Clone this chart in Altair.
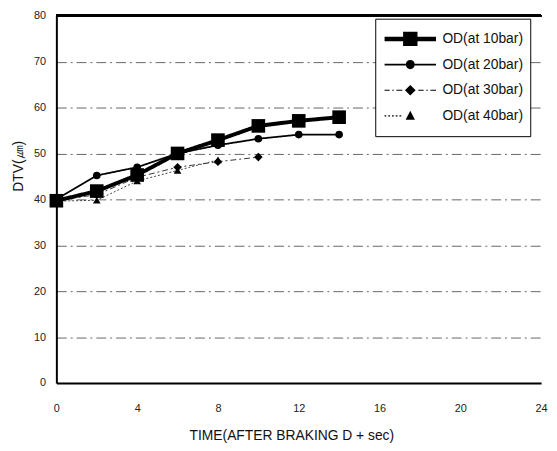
import altair as alt
import pandas as pd

series = ["OD(at 10bar)", "OD(at 20bar)", "OD(at 30bar)", "OD(at 40bar)"]
t10 = [0, 2, 4, 6, 8, 10, 12, 14]
v10 = [39.7, 41.8, 45.3, 50.0, 52.9, 56.0, 57.1, 57.9]
t20 = [0, 2, 4, 6, 8, 10, 12, 14]
v20 = [40.0, 45.2, 47.0, 50.0, 51.8, 53.2, 54.1, 54.1]
t30 = [0, 2, 4, 6, 8, 10]
v30 = [39.8, 41.0, 44.8, 47.0, 48.2, 49.2]
t40 = [0, 2, 4, 6, 8]
v40 = [39.6, 39.8, 44.0, 46.3, 48.6]
x_ticks = [0, 4, 8, 12, 16, 20, 24]
y_ticks = [0, 10, 20, 30, 40, 50, 60, 70, 80]

rows = []
for s, ts, vs in zip(series, [t10, t20, t30, t40], [v10, v20, v30, v40]):
    for t, v in zip(ts, vs):
        rows.append({"series": s, "t": t, "v": v})
df = pd.DataFrame(rows)

FONT = "Liberation Sans"

X = alt.X("t:Q", scale=alt.Scale(domain=[0, 24], nice=False, zero=False),
          axis=alt.Axis(values=x_ticks, title="TIME(AFTER BRAKING D + sec)",
                        grid=False, ticks=False, labelPadding=20,
                        titlePadding=15, titleX=238, labelFlush=False,
                        titleFontSize=14))
Y = alt.Y("v:Q", scale=alt.Scale(domain=[0, 80], nice=False),
          axis=alt.Axis(values=y_ticks, title="DTV(㎛)", grid=True,
                        ticks=False, labelPadding=11, titlePadding=8,
                        titleY=152, labelFlush=False, titleFontSize=14))

# Legend symbols: line segment + marker as filled custom paths.
# symbolSize 729 -> 1 unit = 13.5 px; paths extend to +/-1.93 (about 52 px wide)
legend_paths = [
    "M-1.93,-0.17H-0.54V0.17H-1.93Z M0.54,-0.17H1.93V0.17H0.54Z M-0.54,-0.54H0.54V0.54H-0.54Z",
    "M-1.93,-0.065H-0.34V0.065H-1.93Z M0.34,-0.065H1.93V0.065H0.34Z "
    "M-0.34,0A0.34,0.34 0 1,0 0.34,0A0.34,0.34 0 1,0 -0.34,0Z",
    "M-1.93,-0.045H-1.55V0.045H-1.93Z M-1.35,-0.045H-1.24V0.045H-1.35Z M-1.04,-0.045H-0.6V0.045H-1.04Z "
    "M0.6,-0.045H1.0V0.045H0.6Z M1.2,-0.045H1.31V0.045H1.2Z M1.51,-0.045H1.93V0.045H1.51Z "
    "M-0.4,0L0,-0.4L0.4,0L0,0.4Z",
    "M-1.93,-0.045H-1.8V0.045H-1.93Z M-1.65,-0.045H-1.52V0.045H-1.65Z M-1.37,-0.045H-1.24V0.045H-1.37Z "
    "M-1.09,-0.045H-0.96V0.045H-1.09Z M-0.81,-0.045H-0.68V0.045H-0.81Z "
    "M0,-0.38L0.35,0.28L-0.35,0.28Z",
]

styles = {
    "OD(at 10bar)": dict(sw=4, dash=[1, 0], shape="square", size=190, color="black"),
    "OD(at 20bar)": dict(sw=1.8, dash=[1, 0], shape="circle", size=60, color="black"),
    "OD(at 30bar)": dict(sw=1, dash=[6, 3, 2, 3], shape="diamond", size=75, color="#333333"),
    "OD(at 40bar)": dict(sw=1, dash=[2, 2], shape="triangle-up", size=60, color="#444444"),
}

base = alt.Chart(df)
layers = []
top_rule = alt.Chart(df).mark_rule(color="black", strokeWidth=2).encode(y=alt.datum(80))
for s in reversed(series):
    st = styles[s]
    sub = base.transform_filter(alt.datum.series == s)
    layers.append(sub.mark_line(color=st["color"], strokeWidth=st["sw"],
                                strokeDash=st["dash"]).encode(x=X, y=Y))
    layers.append(sub.mark_point(shape=st["shape"], size=st["size"], filled=True,
                                 opacity=1, color="black").encode(x=X, y=Y))

# The legend title is a tiny white strip at the bottom: it only sizes the legend box.
legend_layer = base.transform_filter("false").mark_point(
    filled=True, color="black", opacity=1
).encode(
    shape=alt.Shape("series:N",
                    scale=alt.Scale(domain=series, range=legend_paths),
                    legend=alt.Legend(title="M" * 55, titleColor="white", titleFont=FONT,
                                      titleOrient="bottom",
                                      titleFontSize=3, titlePadding=3, titleLimit=400,
                                      orient="none", legendX=323, legendY=3,
                                      strokeColor="black", fillColor="white",
                                      padding=7, symbolSize=729, symbolOffset=15,
                                      symbolFillColor="black", symbolStrokeWidth=0,
                                      symbolOpacity=1,
                                      labelFontSize=14, labelFont=FONT,
                                      labelColor="#111111", labelOffset=19,
                                      rowPadding=5))
)

chart = alt.layer(top_rule, *layers, legend_layer).properties(
    width=491, height=372,
    autosize=alt.AutoSizeParams(type="none"),
    padding={"left": 49, "top": 5, "right": 8, "bottom": 60},
).configure_view(stroke=None).configure_axis(
    domainColor="black", domainWidth=2,
    labelFont=FONT, labelFontSize=11, labelColor="#222222",
    titleFont=FONT, titleFontWeight="normal", titleColor="#111111",
    gridColor="#666666", gridDash=[10, 4, 2, 4], gridWidth=1,
)

chart.save("out.html", embed_options={"renderer": "svg", "actions": False})
